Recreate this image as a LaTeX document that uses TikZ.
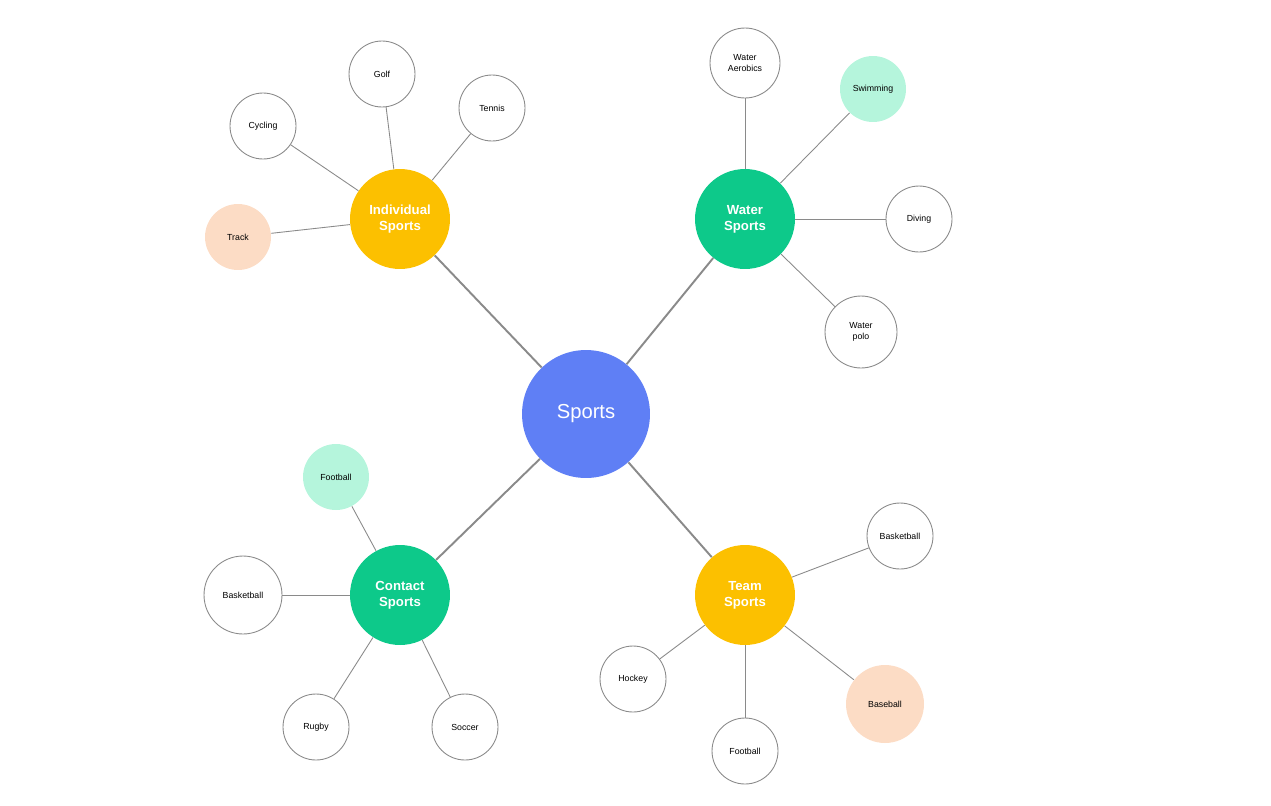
\documentclass[tikz,border=0pt]{standalone}
\usepackage{fontspec}
\setmainfont{Liberation Sans}
\definecolor{cblue}{HTML}{5F7FF5}
\definecolor{cyel}{HTML}{FCC000}
\definecolor{cgrn}{HTML}{0DC98A}
\definecolor{cmint}{HTML}{B5F5DC}
\definecolor{cpeach}{HTML}{FCDCC5}
\definecolor{cline}{HTML}{8A8A8A}
\begin{document}
\begin{tikzpicture}[x=0.02cm,y=-0.02cm,
 leaf/.style={circle,draw=cline,line width=0.5pt,fill=white,minimum size=1.32cm,inner sep=0pt,align=center,font=\fontsize{5}{6}\selectfont},
 mid/.style={circle,minimum size=2cm,inner sep=0pt,align=center,text=white,font=\fontsize{7.5}{9}\selectfont\bfseries},
 thin/.style={draw=cline,line width=0.5pt},
 thick/.style={draw=cline,line width=1.1pt}]
\useasboundingbox (0,0) rectangle (1271,805);
\node[circle,fill=cblue,minimum size=2.56cm,text=white,font=\fontsize{11.5}{13}\selectfont] (S) at (586,414) {Sports};
\node[mid,fill=cyel] (I) at (400,219) {Individual\\Sports};
\node[mid,fill=cgrn] (W) at (745,219) {Water\\Sports};
\node[mid,fill=cgrn] (C) at (400,595) {Contact\\Sports};
\node[mid,fill=cyel] (T) at (745,595) {Team\\Sports};
\foreach \n in {I,W,C,T} \draw[thick] (S) -- (\n);
% individual
\node[leaf] (golf) at (382,74) {Golf};
\node[leaf] (ten) at (492,108) {Tennis};
\node[leaf] (cyc) at (263,126) {Cycling};
\node[leaf,draw=none,fill=cpeach] (trk) at (238,237) {Track};
\foreach \n in {golf,ten,cyc,trk} \draw[thin] (I) -- (\n);
% water
\node[leaf,minimum size=1.4cm] (wa) at (745,63) {Water\\Aerobics};
\node[leaf,draw=none,fill=cmint] (sw) at (873,89) {Swimming};
\node[leaf] (div) at (919,219) {Diving};
\node[leaf,minimum size=1.44cm] (wp) at (861,332) {Water\\polo};
\foreach \n in {wa,sw,div,wp} \draw[thin] (W) -- (\n);
% contact
\node[leaf,draw=none,fill=cmint] (fb1) at (336,477) {Football};
\node[leaf,minimum size=1.56cm] (bb1) at (243,595) {Basketball};
\node[leaf] (rug) at (316,727) {Rugby};
\node[leaf] (soc) at (465,727) {Soccer};
\foreach \n in {fb1,bb1,rug,soc} \draw[thin] (C) -- (\n);
% team
\node[leaf] (bb2) at (900,536) {Basketball};
\node[leaf] (hoc) at (633,679) {Hockey};
\node[leaf] (fb2) at (745,751) {Football};
\node[leaf,draw=none,fill=cpeach,minimum size=1.56cm] (base) at (885,704) {Baseball};
\foreach \n in {bb2,hoc,fb2,base} \draw[thin] (T) -- (\n);
\end{tikzpicture}
\end{document}
